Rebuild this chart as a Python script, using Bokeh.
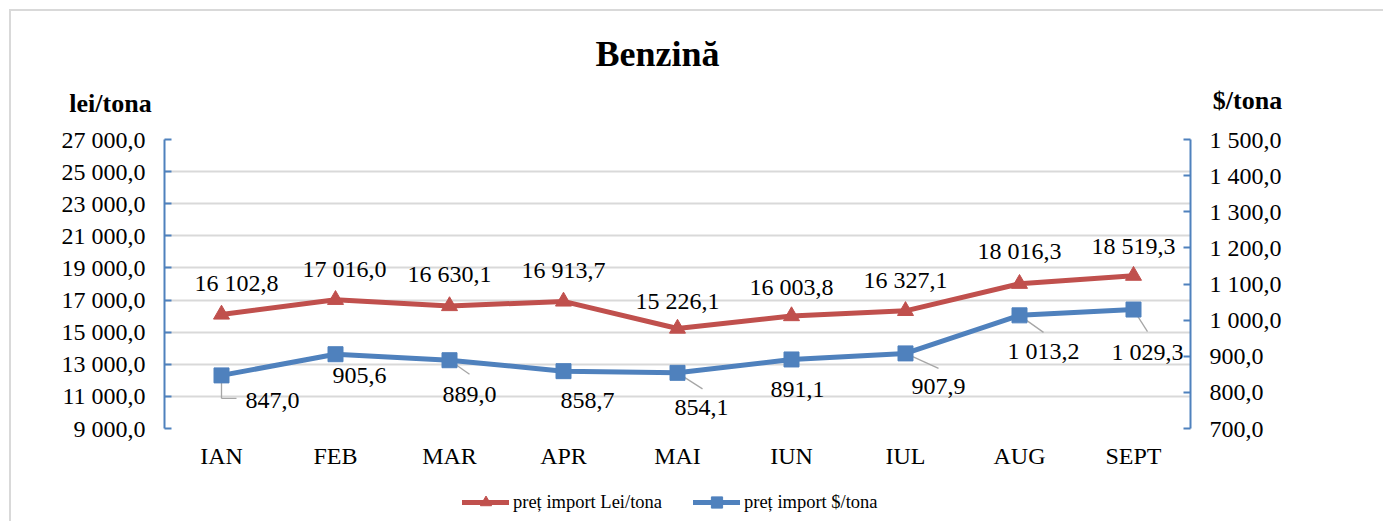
from bokeh.plotting import figure
from bokeh.layouts import column
from bokeh.models import (Range1d, LinearAxis, FixedTicker, ColumnDataSource,
                          LabelSet, Label, Legend, LegendItem)
from bokeh.embed import file_html
from bokeh.resources import INLINE
from bokeh.core.properties import value

# ---------------- data ----------------
title_text = "Benzină"
left_title = "lei/tona"
right_title = "$/tona"
months = ["IAN", "FEB", "MAR", "APR", "MAI", "IUN", "IUL", "AUG", "SEPT"]
lei = [16102.8, 17016.0, 16630.1, 16913.7, 15226.1, 16003.8, 16327.1, 18016.3, 18519.3]
usd = [847.0, 905.6, 889.0, 858.7, 854.1, 891.1, 907.9, 1013.2, 1029.3]
lei_ticks = [9000, 11000, 13000, 15000, 17000, 19000, 21000, 23000, 25000, 27000]
usd_ticks = [700, 800, 900, 1000, 1100, 1200, 1300, 1400, 1500]
series_names = ["preț import Lei/tona", "preț import $/tona"]

# ---------------- style ----------------
RED = "#C0504D"
BLUE = "#4F81BD"
GRID = "#D9D9D9"
FONT = "Liberation Serif"
W = 1372                    # content width
FW, FH = 1026, 289          # frame size in px
HEAD_H, FOOT_H = 108, 48
LEI_MIN, LEI_MAX = lei_ticks[0], lei_ticks[-1]
USD_MIN, USD_MAX = usd_ticks[0], usd_ticks[-1]

# label offsets (px): red above, blue below-right
lei_dx = [15, 9, 0, 0, 0, 0, 0, 0, 0]
lei_up = [31, 31, 32, 31, 28, 29, 31, 33, 30]
usd_dx = [51, 24, 20, 24, 24, 6, 33, 24, 14]
usd_down = [25, 21, 34, 29, 35, 30, 33, 36, 42]
# leader lines (px offsets from point): index -> list of (dx0, dy0, dx1, dy1), y down
leaders = {0: [(0, 7, 0, 23), (0, 23, 15, 23)],
           2: [(0, 0, 20, 14)],
           4: [(0, 0, 25, 16)],
           6: [(0, 0, 33, 15)],
           7: [(0, 0, 24, 17)],
           8: [(0, 0, 14, 22)]}


def fmt(v, nd=1):
    s = f"{v:,.{nd}f}"
    return s.replace(",", " ").replace(".", ",")


def blank(height):
    f = figure(x_range=Range1d(0, W), y_range=Range1d(height, 0),
               frame_width=W, frame_height=height, frame_align=False,
               min_border=0, output_backend="svg", toolbar_location=None,
               title_location=None)
    f.axis.visible = False
    f.grid.visible = False
    f.outline_line_color = None
    f.background_fill_color = "white"
    f.border_fill_color = "white"
    return f


px_x = FW / len(months)                      # px per category
px_usd = FH / (USD_MAX - USD_MIN)            # px per usd unit

src = ColumnDataSource(dict(
    m=months, lei=lei, usd=usd,
    lei_lbl=[fmt(v) for v in lei], usd_lbl=[fmt(v) for v in usd],
    lei_dx=lei_dx, lei_dy=lei_up,
    usd_dx=usd_dx, usd_dy=[-d for d in usd_down],
))

# ---------------- header (title + axis titles) ----------------
head = blank(HEAD_H)
head.add_layout(Label(x=646, y=42, text=title_text, text_font=FONT, text_font_size="36px",
                      text_font_style="bold", text_align="center", text_baseline="middle",
                      text_color="black"))
head.add_layout(Label(x=99, y=92, text=left_title, text_font=FONT, text_font_size="26px",
                      text_font_style="bold", text_align="center", text_baseline="middle",
                      text_color="black"))
head.add_layout(Label(x=1236, y=89, text=right_title, text_font=FONT, text_font_size="26px",
                      text_font_style="bold", text_align="center", text_baseline="middle",
                      text_color="black"))

# ---------------- main chart ----------------
p = figure(x_range=months, y_range=Range1d(LEI_MIN, LEI_MAX),
           frame_width=FW, frame_height=FH, frame_align=False,
           min_border_left=153, min_border_right=W - 153 - FW,
           min_border_top=20, min_border_bottom=45,
           output_backend="svg", toolbar_location=None, title_location=None)
p.extra_y_ranges = {"usd": Range1d(USD_MIN, USD_MAX)}
p.outline_line_color = None
p.background_fill_color = "white"
p.border_fill_color = "white"

ya = p.yaxis[0]
ya.ticker = FixedTicker(ticks=lei_ticks)
ya.major_label_overrides = {t: fmt(t) for t in lei_ticks}
ra = LinearAxis(y_range_name="usd", ticker=FixedTicker(ticks=usd_ticks))
ra.major_label_overrides = {t: fmt(t) for t in usd_ticks}
p.add_layout(ra, "right")
for ax in (ya, ra):
    ax.axis_line_color = BLUE
    ax.axis_line_width = 2
    ax.major_tick_line_color = BLUE
    ax.major_tick_line_width = 2
    ax.major_tick_in = 7
    ax.major_tick_out = 0
    ax.minor_tick_line_color = None
    ax.major_label_text_font = FONT
    ax.major_label_text_font_size = "24px"
    ax.major_label_text_color = "black"
    ax.major_label_standoff = 19

xa = p.xaxis[0]
xa.axis_line_color = None
xa.major_tick_line_color = None
xa.minor_tick_line_color = None
xa.major_label_text_font = FONT
xa.major_label_text_font_size = "24px"
xa.major_label_text_color = "black"
xa.major_label_standoff = 8

p.xgrid.grid_line_color = None
p.ygrid.ticker = FixedTicker(ticks=lei_ticks)
p.ygrid.grid_line_color = GRID
p.ygrid.grid_line_width = 2

p.line("m", "lei", source=src, color=RED, line_width=5, line_join="round", line_cap="round")
p.line("m", "usd", source=src, color=BLUE, line_width=5, line_join="round", line_cap="round",
       y_range_name="usd")

x0s, y0s, x1s, y1s = [], [], [], []
for i, segs in leaders.items():
    for (a, b, c, d) in segs:
        x0s.append(i + 0.5 + a / px_x)
        y0s.append(usd[i] - b / px_usd)
        x1s.append(i + 0.5 + c / px_x)
        y1s.append(usd[i] - d / px_usd)
p.segment(x0s, y0s, x1s, y1s, color="#A6A6A6", line_width=1.3, y_range_name="usd")

p.scatter("m", "lei", source=src, marker="triangle", size=16, color=RED)
p.scatter("m", "usd", source=src, marker="square", size=15, color=BLUE, y_range_name="usd")

p.add_layout(LabelSet(x="m", y="lei", text="lei_lbl", source=src,
                      x_offset="lei_dx", y_offset="lei_dy",
                      text_font=value(FONT), text_font_size=value("24px"),
                      text_align="center", text_baseline="middle", text_color="black"))
p.add_layout(LabelSet(x="m", y="usd", text="usd_lbl", source=src, y_range_name="usd",
                      x_offset="usd_dx", y_offset="usd_dy",
                      text_font=value(FONT), text_font_size=value("24px"),
                      text_align="center", text_baseline="middle", text_color="black"))

# ---------------- footer (legend) ----------------
foot = blank(FOOT_H)
# legend proxies: one point each, parked outside the footer's visible range
proxy = dict(x=[-1000], y=[-1000])
l1 = foot.line(x=proxy["x"], y=proxy["y"], color=RED, line_width=5, line_cap="round")
s1 = foot.scatter(x=proxy["x"], y=proxy["y"], marker="triangle", size=16, color=RED)
l2 = foot.line(x=proxy["x"], y=proxy["y"], color=BLUE, line_width=5, line_cap="round")
s2 = foot.scatter(x=proxy["x"], y=proxy["y"], marker="square", size=15, color=BLUE)
legend = Legend(items=[LegendItem(label=series_names[0], renderers=[l1, s1]),
                       LegendItem(label=series_names[1], renderers=[l2, s2])],
                orientation="horizontal", location=(451, 5), spacing=20,
                padding=0, margin=0, border_line_color=None, background_fill_alpha=0,
                glyph_width=47, glyph_height=28, label_height=28, label_width=160,
                label_standoff=4, label_text_font=FONT, label_text_font_size="18.5px",
                label_text_color="black")
foot.add_layout(legend)

layout = column(head, p, foot, spacing=0)
layout.styles = {"border-top": f"2px solid {GRID}", "border-left": f"2px solid {GRID}",
                 "margin": "9px 0 0 9px"}

open("out.html", "w").write(file_html(layout, INLINE))
